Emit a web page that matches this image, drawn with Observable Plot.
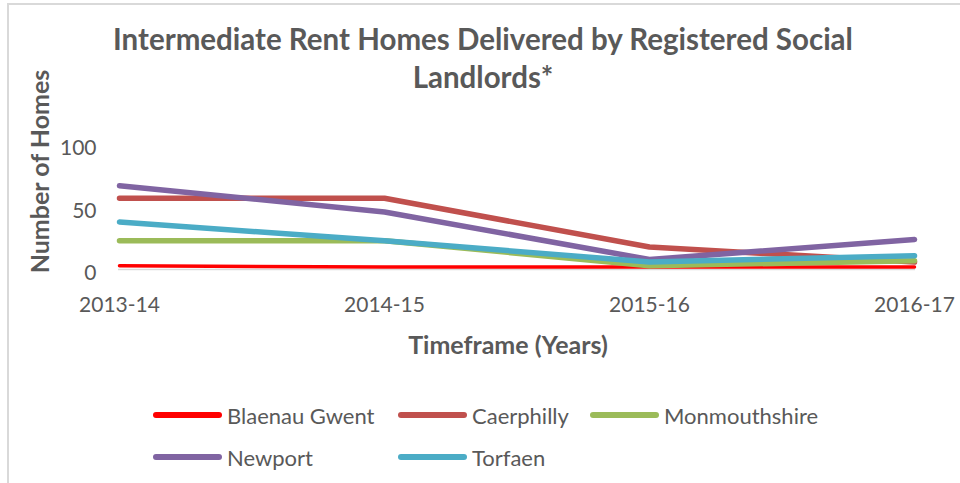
<!DOCTYPE html>
<html><head><meta charset="utf-8">
<script src="https://cdn.jsdelivr.net/npm/d3@7"></script>
<script src="https://cdn.jsdelivr.net/npm/@observablehq/plot@0.6"></script>
<style>
body{margin:0;background:#fff;font-family:Lato,"Open Sans",sans-serif;}
#wrap{position:relative;width:960px;height:483px;overflow:hidden;background:#fff;}
#frame{position:absolute;left:7px;top:3px;width:1000px;height:600px;border-left:2px solid #d9d9d9;border-top:2px solid #d9d9d9;}
#title{position:absolute;left:0;top:20px;width:966px;text-align:center;font-weight:700;font-size:29.5px;line-height:38px;color:#595959;}
#chart{position:absolute;left:0;top:100px;}
#chart svg{overflow:visible;}
#legend{position:absolute;left:153px;top:394px;display:grid;grid-template-columns:245px 192px auto;grid-auto-rows:42px;}
.item{display:flex;align-items:center;font-size:22px;color:#595959;white-space:nowrap;}
.sw{display:inline-block;width:69px;height:6px;border-radius:3px;margin-right:5px;}
</style>
</head><body>
<div id="wrap">
  <div id="frame"></div>
  <div id="title">Intermediate Rent Homes Delivered by Registered Social<br>Landlords*</div>
  <div id="chart"></div>
  <div id="legend"></div>
</div>
<script>
const years = ["2013-14", "2014-15", "2015-16", "2016-17"];
const seriesNames = ["Blaenau Gwent", "Caerphilly", "Monmouthshire", "Newport", "Torfaen"];
const blaenauGwent = [3, 2, 2, 2];
const caerphilly = [57, 57, 18, 6];
const monmouthshire = [23, 23, 3, 7];
const newport = [67, 46, 8, 24];
const torfaen = [38, 23, 6, 11];
const seriesColors = ["#FF0000", "#C0504D", "#9BBB59", "#8064A2", "#4BACC6"];
const yTicks = [0, 50, 100];

const seriesValues = [blaenauGwent, caerphilly, monmouthshire, newport, torfaen];
const rows = [];
seriesNames.forEach((name, i) => {
  years.forEach((yr, j) => rows.push({series: name, year: yr, value: seriesValues[i][j]}));
});

const lineMarks = seriesNames.map((name, i) =>
  Plot.line(rows.filter(r => r.series === name), {
    x: "year", y: "value",
    stroke: seriesColors[i],
    strokeWidth: i === 0 ? 3.5 : 5.5,
    strokeLinejoin: "round"
  })
);

const chart = Plot.plot({
  width: 960,
  height: 270,
  marginLeft: 118,
  marginRight: 45,
  marginTop: 44,
  marginBottom: 101,
  x: {type: "point", domain: years, padding: 0},
  y: {domain: [0, 100]},
  style: {fontFamily: "Lato, 'Open Sans', sans-serif", fontSize: "21px", color: "#595959", background: "transparent", overflow: "visible"},
  marks: [
    Plot.ruleY([0], {stroke: "#d9d9d9", strokeWidth: 1.5}),
    Plot.axisX({tickSize: 0, tickPadding: 28, label: null}),
    Plot.axisY({ticks: yTicks, tickSize: 0, tickPadding: 22, label: null, dy: 4}),
    ...lineMarks,
    Plot.text(["Timeframe (Years)"], {text: d => d, frameAnchor: "bottom", lineAnchor: "middle", dy: 76, dx: -9, fontWeight: "bold", fontSize: 25}),
    Plot.text(["Number of Homes"], {text: d => d, frameAnchor: "left", textAnchor: "middle", lineAnchor: "middle", rotate: -90, dx: -78, dy: -35.5, fontWeight: "bold", fontSize: 25})
  ]
});
document.getElementById("chart").appendChild(chart);

const legend = document.getElementById("legend");
seriesNames.forEach((name, i) => {
  const item = document.createElement("div");
  item.className = "item";
  const sw = document.createElement("span");
  sw.className = "sw";
  sw.style.background = seriesColors[i];
  item.appendChild(sw);
  item.appendChild(document.createTextNode(name));
  legend.appendChild(item);
});
</script>
</body></html>
